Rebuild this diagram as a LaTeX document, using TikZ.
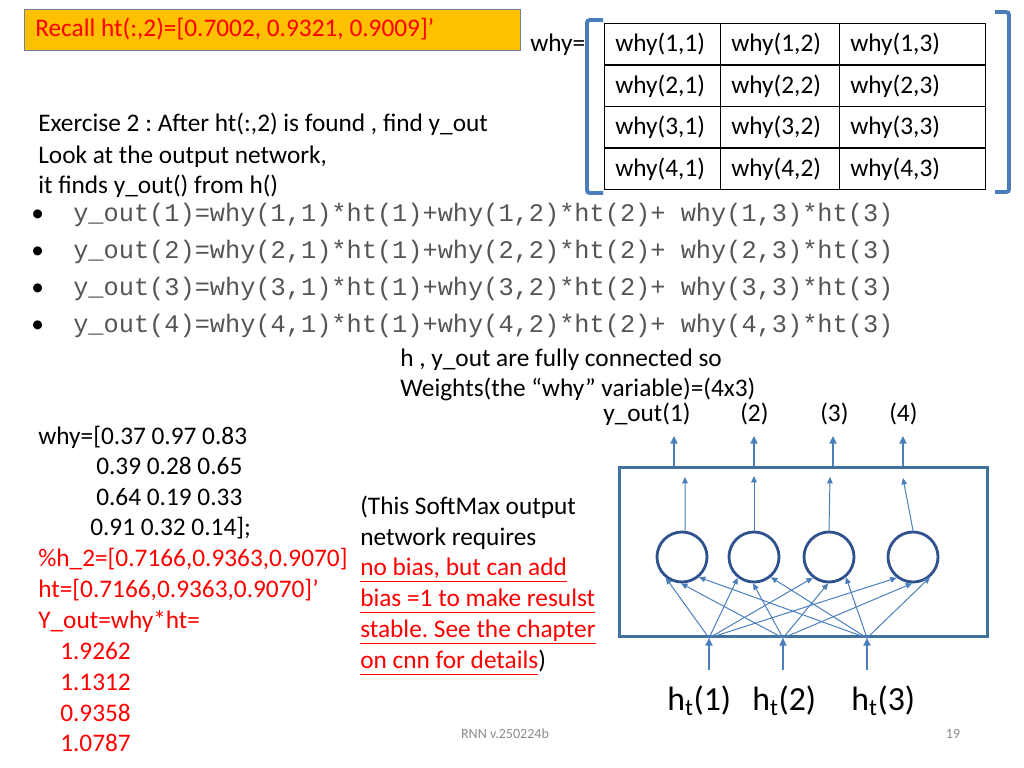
\documentclass[tikz,border=0pt]{standalone}
\usepackage{fontspec}
\setmainfont{Carlito}
\setmonofont{Liberation Mono}
\usepackage{tikz}
\usetikzlibrary{arrows.meta}
\usepackage{xcolor}
\definecolor{ppred}{HTML}{FF0000}
\definecolor{ppgold}{HTML}{FFC000}
\definecolor{ppframe}{HTML}{6F7F95}
\definecolor{ppblue}{HTML}{4A7EBB}
\definecolor{ppdark}{HTML}{2F528F}
\definecolor{ppbox}{HTML}{41719C}
\definecolor{ppgray}{HTML}{8C8C8C}
\definecolor{ppcode}{HTML}{555555}
\frenchspacing

\tikzset{
  txt/.style={anchor=base west,inner sep=0pt,font=\fontsize{18}{22}\selectfont},
  redtxt/.style={txt,text=ppred},
  codeline/.style={anchor=base west,inner sep=0pt,text=ppcode,font=\ttfamily\fontsize{18}{22}\selectfont},
  footer/.style={anchor=base,inner sep=0pt,text=ppgray,font=\fontsize{10}{12}\selectfont},
  cellbox/.style={draw=black,line width=0.6pt,anchor=north west,minimum height=1.0375cm,inner sep=0pt},
  bracket/.style={draw=ppblue,line width=2.8pt,rounded corners=2pt},
  neuron/.style={circle,draw=ppdark,line width=2pt,minimum size=1.25cm,inner sep=0pt},
  fatarrow/.style={draw=ppblue,line width=2pt,-{Triangle[length=5.5pt,width=5pt]}},
  thinarrow/.style={draw=ppblue,line width=0.7pt,-{Triangle[length=4.5pt,width=4pt]}}
}

\begin{document}
\begin{tikzpicture}[x=0.025cm,y=-0.025cm]
  \useasboundingbox[fill=white] (0,0) rectangle (1024,768);

  % recall box
  \node (recall) at (24,9) [anchor=north west,draw=ppframe,line width=0.7pt,fill=ppgold,minimum width=12.4cm,minimum height=1.025cm] {};
  \node (recalltxt) at (35,37) [redtxt] {Recall ht(:,2)=[0.7002, 0.9321, 0.9009]’};

  % the why matrix
  \node (whyeq) at (530,52) [txt] {why=};
  \foreach \r [evaluate=\r as \ty using 23+41.5*(\r-1)] in {1,...,4} {
    \foreach \c/\x/\w in {1/604/2.9cm,2/720/2.975cm,3/839/3.65cm} {
      \node (cell\r\c) at (\x,\ty) [cellbox,minimum width=\w] {};
      \node (celltxt\r\c) at ([xshift=0.275cm,yshift=-0.19cm]cell\r\c.west) [txt] {why(\r,\c)};
    }
  }
  \draw[bracket] (603,20) -- (587,20) -- (587,193) -- (603,193);
  \draw[bracket] (995,12) -- (1009,12) -- (1009,192) -- (995,192);

  % exercise text
  \node (ex1) at (38,132) [txt] {Exercise 2 : After ht(:,2) is found , find y\_out};
  \node (ex2) at (38,163) [txt] {Look at the output network,};
  \node (ex3) at (38,193) [txt] {it finds y\_out() from h()};

  % bullet lines
  \foreach \i/\yb in {1/221,2/258,3/295,4/332} {
    \node (bul\i) at (31,\yb) [txt] {\textbullet};
    \node (eq\i) at (73,\yb) [codeline] {y\_out(\i)=why(\i,1)*ht(1)+why(\i,2)*ht(2)+ why(\i,3)*ht(3)};
  }

  \node (conn1) at (400,366) [txt] {h , y\_out are fully connected so};
  \node (conn2) at (400,396) [txt] {Weights(the “why” variable)=(4x3)};

  % numbers on the left
  \node (w1) at (38,444) [txt] {why=[0.37 0.97 0.83};
  \node (w2) at (96,474) [txt] {0.39 0.28 0.65};
  \node (w3) at (96,505) [txt] {0.64 0.19 0.33};
  \node (w4) at (90,535) [txt] {0.91 0.32 0.14];};
  \node (r1) at (38,566) [redtxt] {\%h\_2=[0.7166,0.9363,0.9070]};
  \node (r2) at (38,597) [redtxt] {ht=[0.7166,0.9363,0.9070]’};
  \node (r3) at (38,628) [redtxt] {Y\_out=why*ht=};
  \node (r4) at (60,659) [redtxt] {1.9262};
  \node (r5) at (60,690) [redtxt] {1.1312};
  \node (r6) at (60,721) [redtxt] {0.9358};
  \node (r7) at (60,751) [redtxt] {1.0787};

  % softmax remark
  \node (s1) at (360,514) [txt] {(This SoftMax output};
  \node (s2) at (360,545) [txt] {network requires};
  \node (s3) at (360,575) [redtxt] {\underline{no bias, but can add\vphantom{p}}};
  \node (s4) at (360,606) [redtxt] {\underline{bias =1 to make resulst\vphantom{p}}};
  \node (s5) at (360,637) [redtxt] {\underline{stable. See the chapter}};
  \node (s6) at (360,668) [redtxt] {\underline{on cnn for details\vphantom{p}}\textcolor{black}{)}};

  % output network
  \node (net) at (618,466) [anchor=north west,draw=ppbox,line width=2pt,minimum width=9.2cm,minimum height=4.225cm] {};
  \node (n1) at (682,557) [neuron] {};
  \node (n2) at (754,557) [neuron] {};
  \node (n3) at (829,557) [neuron] {};
  \node (n4) at (913,557) [neuron] {};

  \node (y1) at (603,421) [txt] {y\_out(1)};
  \node (y2) at (740,421) [txt] {(2)};
  \node (y3) at (820,421) [txt] {(3)};
  \node (y4) at (889,421) [txt] {(4)};

  \foreach \j/\xo in {1/674,2/754,3/833,4/903} {
    \coordinate (ob\j) at (\xo,466);
    \coordinate (ot\j) at (\xo,436);
    \draw[fatarrow] (ob\j) -- (ot\j);
  }
  \coordinate (t1) at (685,477);
  \coordinate (t2) at (754,476);
  \coordinate (t3) at (830,477);
  \coordinate (t4) at (903,478);
  \draw[thinarrow] ([xshift=0.075cm]n1.north) -- (t1);
  \draw[thinarrow] (n2.north) -- (t2);
  \draw[thinarrow] (n3.north) -- (t3);
  \draw[thinarrow] (n4.north) -- (t4);

  % inputs
  \foreach \i/\xi/\ang in {1/709/232,2/783/268,3/867/310} {
    \coordinate (hb\i) at (\xi,670);
    \coordinate (ht\i) at (\xi,638);
    \draw[fatarrow] (hb\i) -- (ht\i);
    \foreach \j in {1,...,4}
      \draw[thinarrow] (ht\i) -- (n\j.\ang);
  }
  \node (h1) at (667,710) [anchor=base west,inner sep=0pt,font=\fontsize{24}{28}\selectfont] {h\textsubscript{t}(1)};
  \node (h2) at (752,710) [anchor=base west,inner sep=0pt,font=\fontsize{24}{28}\selectfont] {h\textsubscript{t}(2)};
  \node (h3) at (851,710) [anchor=base west,inner sep=0pt,font=\fontsize{24}{28}\selectfont] {h\textsubscript{t}(3)};

  \node (foot) at (505,738) [footer] {RNN v.250224b};
  \node (page) at (953,738) [footer] {19};
\end{tikzpicture}
\end{document}
